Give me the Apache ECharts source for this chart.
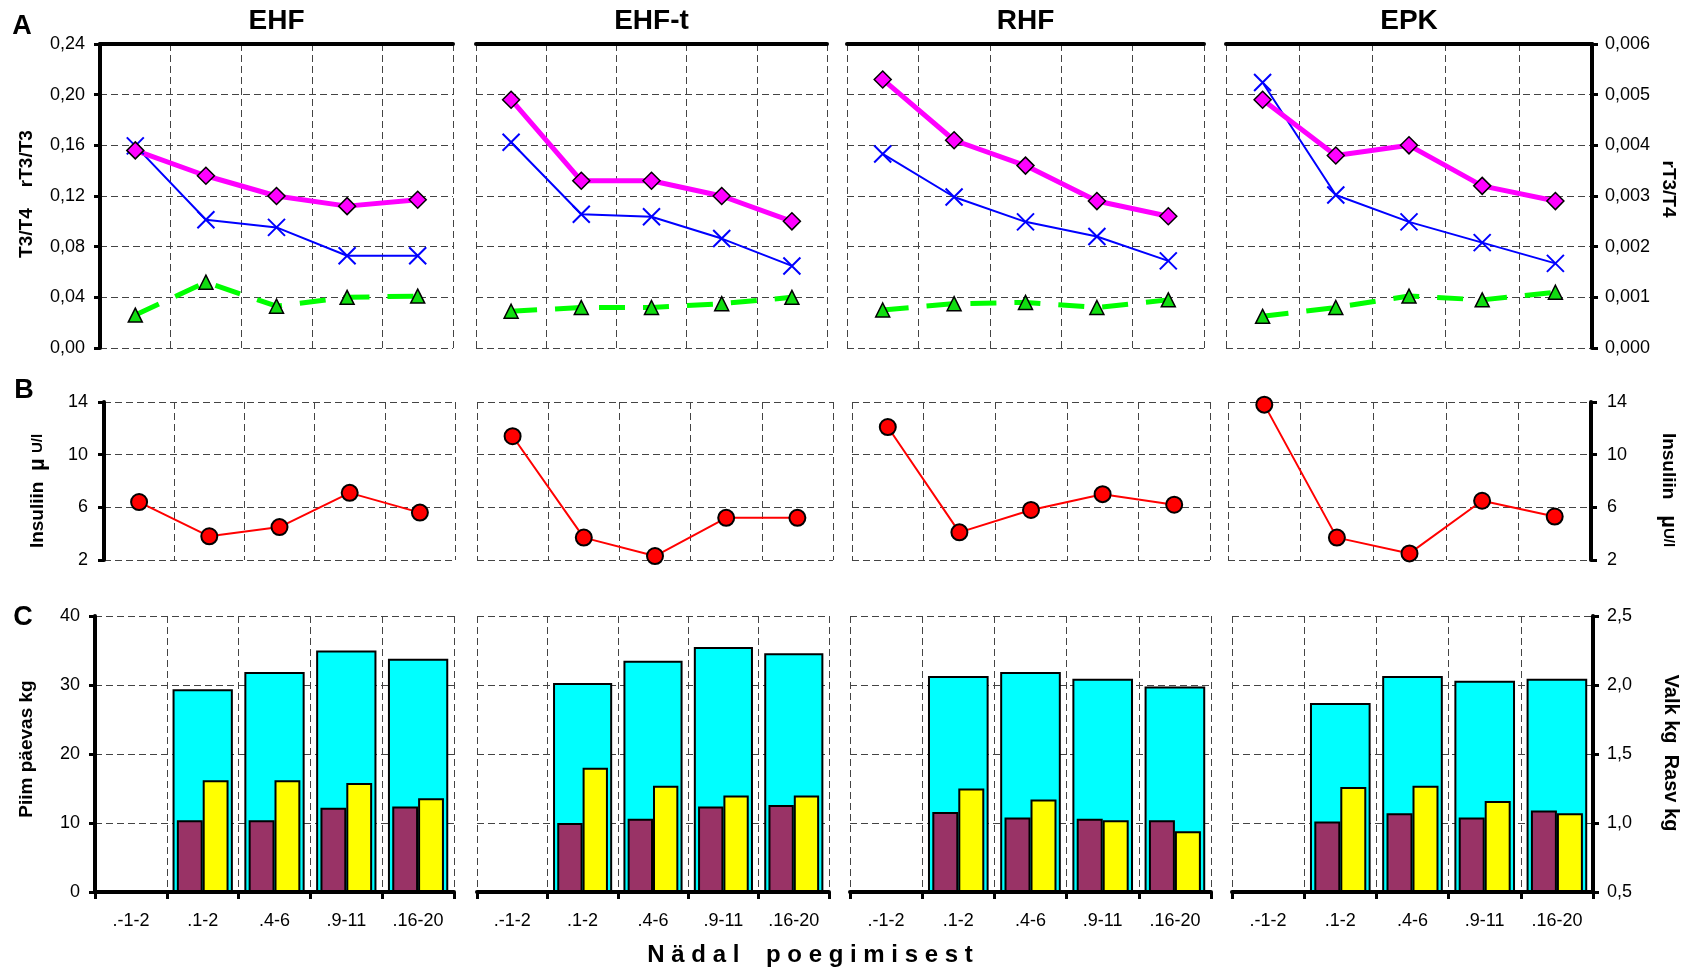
<!DOCTYPE html>
<html>
<head>
<meta charset="utf-8">
<script src="https://cdn.jsdelivr.net/npm/echarts@6/dist/echarts.min.js"></script>
<style>
  html, body { margin: 0; padding: 0; background: #fff; }
  #chart { width: 1701px; height: 971px; }
</style>
</head>
<body>
<div id="chart"></div>
<script>
// ---- data ----
const groups = ['EHF', 'EHF-t', 'RHF', 'EPK'];
const weeks = ['.-1-2', '.1-2', '.4-6', '.9-11', '.16-20'];

// A: thyroid hormone ratios (rT3/T3 and T3/T4 on the left scale, rT3/T4 on the right scale)
const rT3T3 = [
  [0.156, 0.136, 0.120, 0.112, 0.117],
  [0.196, 0.132, 0.132, 0.120, 0.100],
  [0.212, 0.164, 0.144, 0.116, 0.104],
  [0.196, 0.152, 0.160, 0.128, 0.116]
];
const t3T4 = [
  [0.026, 0.052, 0.033, 0.040, 0.041],
  [0.029, 0.032, 0.032, 0.035, 0.040],
  [0.030, 0.035, 0.036, 0.032, 0.038],
  [0.025, 0.032, 0.041, 0.038, 0.044]
];
const rT3T4 = [
  [0.00399, 0.00253, 0.00238, 0.00182, 0.00182],
  [0.00406, 0.00264, 0.00259, 0.00216, 0.00162],
  [0.00383, 0.00298, 0.00249, 0.00220, 0.00172],
  [0.00524, 0.00302, 0.00249, 0.00208, 0.00167]
];

// B: insulin, µU/l
const insulin = [
  [6.4, 3.8, 4.5, 7.1, 5.6],
  [11.4, 3.7, 2.3, 5.2, 5.2],
  [12.1, 4.1, 5.8, 7.0, 6.2],
  [13.8, 3.7, 2.5, 6.5, 5.3]
];

// C: milk per day (left scale), protein and fat (right scale), kg
const milk = [
  [null, 29.4, 31.9, 35.0, 33.8],
  [null, 30.3, 33.5, 35.5, 34.6],
  [null, 31.3, 31.9, 30.9, 29.8],
  [null, 27.4, 31.3, 30.6, 30.9]
];
const protein = [
  [null, 1.02, 1.02, 1.11, 1.12],
  [null, 1.00, 1.03, 1.12, 1.13],
  [null, 1.08, 1.04, 1.03, 1.02],
  [null, 1.01, 1.07, 1.04, 1.09]
];
const fat = [
  [null, 1.31, 1.31, 1.29, 1.18],
  [null, 1.40, 1.27, 1.20, 1.20],
  [null, 1.25, 1.17, 1.02, 0.94],
  [null, 1.26, 1.27, 1.16, 1.07]
];

// scales: [min, max, interval]
const scaleA = [0, 0.24, 0.04];
const scaleAright = [0, 0.006, 0.001];
const scaleB = [2, 14, 4];
const scaleC = [0, 40, 10];
const scaleCright = [0.5, 2.5, 0.5];

// ---- layout ----
const rows = [
  { top: 44, height: 304, cols: [[100, 453], [476, 827], [847, 1204], [1226, 1592]] },
  { top: 402, height: 158, cols: [[104, 455], [477, 833], [852, 1210], [1228, 1591]] },
  { top: 616, height: 276, cols: [[95, 454], [477, 829], [850, 1211], [1232, 1593]] }
];

const FONT = '"Liberation Sans", Arial, Helvetica, sans-serif';
const gridLine = { show: true, lineStyle: { color: '#444', width: 1, type: [7, 4] } };
const noLine = { show: false };
const thick = { color: '#000', width: 4 };
const tick = show => ({ show, length: 6, lineStyle: { color: '#000', width: 3 } });
const label = (show, fmt, margin) => ({ show, formatter: fmt, fontSize: 18, color: '#000', fontFamily: FONT, margin });
const comma = d => v => v.toFixed(d).replace('.', ',');

function valueAxis(g, pos, sc, show, fmt, margin, split) {
  return {
    type: 'value', gridIndex: g, position: pos,
    min: sc[0], max: sc[1], interval: sc[2], startValue: sc[0],
    axisLine: { show, onZero: false, lineStyle: thick },
    axisTick: tick(show),
    axisLabel: label(show, fmt, margin),
    splitLine: split ? gridLine : noLine
  };
}

const grid = [], xAxis = [], yAxis = [], series = [];

rows.forEach((row, r) => {
  row.cols.forEach(([x0, x1], c) => {
    const g = grid.length;
    const first = c === 0, last = c === 3;
    grid.push({ left: x0, top: row.top, width: x1 - x0, height: row.height,
                containLabel: false, outerBoundsMode: 'none' });

    const xi = xAxis.length;
    xAxis.push({
      type: 'category', gridIndex: g, data: weeks, boundaryGap: true,
      position: r === 0 ? 'top' : 'bottom',
      axisLine: { show: r !== 1, onZero: false, lineStyle: thick },
      axisTick: { show: r === 2, length: 7, lineStyle: { color: '#000', width: 3 } },
      axisLabel: { show: r === 2, fontSize: 18, color: '#000', fontFamily: FONT, margin: 20 },
      splitLine: gridLine
    });

    if (r === 0) {
      const yl = yAxis.length;
      yAxis.push(valueAxis(g, 'left', scaleA, first, comma(2), 15, true));
      const yr = yAxis.length;
      yAxis.push(valueAxis(g, 'right', scaleAright, last, comma(3), 13, false));
      series.push({
        name: 'T3/T4', type: 'line', xAxisIndex: xi, yAxisIndex: yl, data: t3T4[c],
        symbol: 'triangle', symbolSize: 14,
        lineStyle: { color: '#00ff00', width: 5, type: [26, 18] },
        itemStyle: { color: '#11dd11', borderColor: '#000', borderWidth: 1.5 }
      });
      series.push({
        name: 'rT3/T4', type: 'line', xAxisIndex: xi, yAxisIndex: yr, data: rT3T4[c],
        symbol: 'path://M0,0L10,10M10,0L0,10', symbolSize: 17,
        lineStyle: { color: '#0000ff', width: 2 },
        itemStyle: { color: 'none', borderColor: '#0000ff', borderWidth: 2 }
      });
      series.push({
        name: 'rT3/T3', type: 'line', xAxisIndex: xi, yAxisIndex: yl, data: rT3T3[c],
        symbol: 'diamond', symbolSize: 17,
        lineStyle: { color: '#ff00ff', width: 5 },
        itemStyle: { color: '#ff00ff', borderColor: '#000', borderWidth: 1.5 }
      });
    } else if (r === 1) {
      const yi = yAxis.length;
      yAxis.push(valueAxis(g, last ? 'right' : 'left', scaleB, first || last, v => String(v), 16, true));
      series.push({
        name: 'Insuliin', type: 'line', xAxisIndex: xi, yAxisIndex: yi, data: insulin[c],
        symbol: 'circle', symbolSize: 16,
        lineStyle: { color: '#ff0000', width: 2 },
        itemStyle: { color: '#ff0000', borderColor: '#000', borderWidth: 2 }
      });
    } else {
      const xb = xAxis.length;
      xAxis.push({ type: 'category', gridIndex: g, data: weeks, show: false,
                   axisLine: { onZero: false } });
      const yl = yAxis.length;
      yAxis.push(valueAxis(g, 'left', scaleC, first, v => String(v), 15, true));
      const yr = yAxis.length;
      yAxis.push(valueAxis(g, 'right', scaleCright, last, comma(1), 14, false));
      series.push({
        name: 'Piim', type: 'bar', xAxisIndex: xi, yAxisIndex: yl, data: milk[c],
        barWidth: '84%', clip: true,
        itemStyle: { color: '#00ffff', borderColor: '#000', borderWidth: 2 }
      });
      series.push({
        name: 'Valk', type: 'bar', xAxisIndex: xb, yAxisIndex: yr, data: protein[c],
        barWidth: '36%', barGap: '0%', clip: true,
        itemStyle: { color: '#993366', borderColor: '#000', borderWidth: 2 }
      });
      series.push({
        name: 'Rasv', type: 'bar', xAxisIndex: xb, yAxisIndex: yr, data: fat[c],
        barWidth: '36%', barGap: '0%', clip: true,
        itemStyle: { color: '#ffff00', borderColor: '#000', borderWidth: 2 }
      });
    }
  });
});

// ---- text ----
function txt(x, y, text, font, rotation, rich) {
  return {
    type: 'text', x, y, rotation: rotation || 0, silent: true, z: 10,
    style: { text, font, fill: '#000', rich,
             textAlign: 'center', textVerticalAlign: 'middle',
             align: 'center', verticalAlign: 'middle' }
  };
}
const UP = Math.PI / 2, DOWN = -Math.PI / 2;
const boldF = px => `bold ${px}px ${FONT}`;
const graphic = [];
groups.forEach((name, c) => {
  const [x0, x1] = rows[0].cols[c];
  graphic.push(txt((x0 + x1) / 2, 21, name, boldF(28)));
});
graphic.push(txt(22, 27, 'A', boldF(27)));
graphic.push(txt(24, 391, 'B', boldF(27)));
graphic.push(txt(23, 618, 'C', boldF(27)));

graphic.push(txt(27, 194, 'T3/T4    rT3/T3', boldF(19), UP));
graphic.push(txt(1668, 189, 'rT3/T4', boldF(19), DOWN));
const insRich = {
  a: { font: boldF(19), fill: '#000' },
  b: { font: boldF(22), fill: '#000' },
  c: { font: boldF(15), fill: '#000' }
};
graphic.push(txt(38, 491, '{a|Insuliin}  {b|µ} {c|U/l}', boldF(19), UP, insRich));
graphic.push(txt(1668, 490, '{a|Insuliin}   {b|µ}{c|U/l}', boldF(19), DOWN, insRich));
graphic.push(txt(27, 749, 'Piim päevas kg', boldF(19), UP));
graphic.push(txt(1671, 753, 'Valk kg  Rasv kg', boldF(20), DOWN));
graphic.push(txt(810, 955, 'N ä d a l    p o e g i m i s e s t', boldF(24)));

const chart = echarts.init(document.getElementById('chart'), null, { renderer: 'canvas' });
chart.setOption({
  animation: false,
  backgroundColor: '#fff',
  textStyle: { fontFamily: FONT },
  grid, xAxis, yAxis, series, graphic
});
</script>
</body>
</html>
